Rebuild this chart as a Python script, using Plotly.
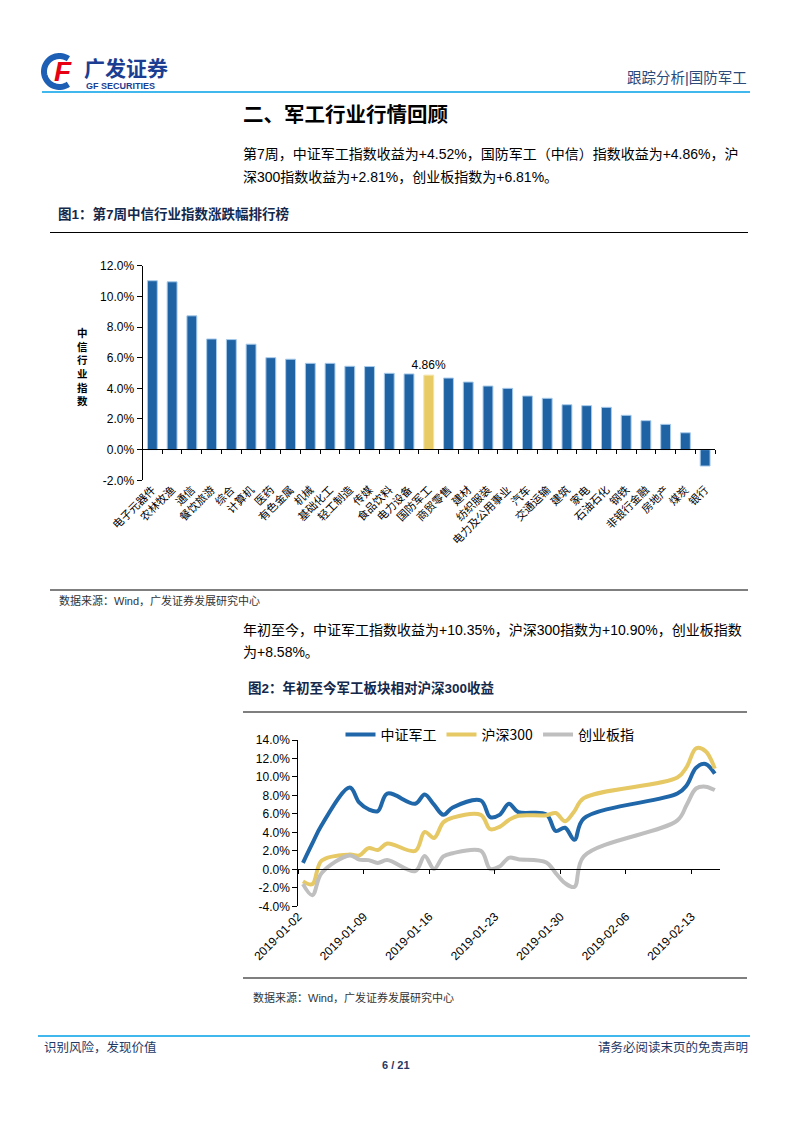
import math
import plotly.graph_objects as go

W, H = 793, 1122
OFF = 8  # the page's default body margin shifts the figure by 8px


def X(px):
    return (px - OFF) / W


def Y(py):
    return 1 - (py - OFF) / H


FONT = "Liberation Sans, Noto Sans CJK SC, sans-serif"
CJK = "Noto Sans CJK SC, Liberation Sans, sans-serif"

# ---------------- Chart 1 data ----------------
industries = ["电子元器件", "农林牧渔", "通信", "餐饮旅游", "综合", "计算机", "医药", "有色金属",
              "机械", "基础化工", "轻工制造", "传媒", "食品饮料", "电力设备", "国防军工", "商贸零售",
              "建材", "纺织服装", "电力及公用事业", "汽车", "交通运输", "建筑", "家电", "石油石化",
              "钢铁", "非银行金融", "房地产", "煤炭", "银行"]
weekly_change = [11.02, 10.95, 8.73, 7.22, 7.18, 6.88, 6.00, 5.90, 5.63, 5.63, 5.44, 5.42,
                 4.98, 4.94, 4.86, 4.67, 4.41, 4.15, 4.00, 3.50, 3.35, 2.93, 2.87, 2.76,
                 2.24, 1.89, 1.65, 1.10, -1.07]
highlight = "国防军工"
y1_ticks = [-2, 0, 2, 4, 6, 8, 10, 12]

# ---------------- Chart 2 data ----------------
trade_dates = ["2019-01-02", "2019-01-03", "2019-01-04", "2019-01-07", "2019-01-08", "2019-01-09",
               "2019-01-10", "2019-01-11", "2019-01-14", "2019-01-15", "2019-01-16", "2019-01-17",
               "2019-01-18", "2019-01-21", "2019-01-22", "2019-01-23", "2019-01-24", "2019-01-25",
               "2019-01-28", "2019-01-29", "2019-01-30", "2019-01-31", "2019-02-01", "2019-02-11",
               "2019-02-12", "2019-02-13", "2019-02-14", "2019-02-15"]
zz_jungong = [0.7, 2.8, 4.8, 8.85, 7.25, 6.5, 6.3, 8.2, 7.1, 8.1, 7.0, 5.9, 6.7, 7.45, 5.65,
              5.9, 7.1, 6.2, 5.95, 4.15, 4.5, 3.2, 5.5, 8.2, 9.1, 11.0, 11.4, 10.35]
hs300 = [-1.3, -1.6, 0.95, 1.6, 1.5, 2.3, 2.1, 2.8, 2.0, 4.05, 3.4, 5.1, 5.6, 5.9, 4.35,
         4.6, 5.35, 5.8, 5.85, 6.1, 5.2, 6.3, 7.7, 9.95, 11.1, 13.1, 12.8, 10.9]
cyb = [-1.6, -2.8, -0.4, 1.5, 1.05, 1.0, 0.7, 1.0, -0.2, 1.45, 0.05, 1.4, 1.75, 2.0, 0.05,
       0.3, 1.25, 1.1, 0.75, -0.4, -1.5, -1.9, 1.4, 5.3, 7.0, 8.75, 8.95, 8.58]
series_names = ["中证军工", "沪深300", "创业板指"]
series_colors = ["#1F67A8", "#E6C964", "#BFBFBF"]
y2_ticks = [-4, -2, 0, 2, 4, 6, 8, 10, 12, 14]
x2_range = ["2019-01-02", "2019-02-16"]

fig = go.Figure()

# Bars
n = len(industries)
bar_colors = ["#E9CB66" if c == highlight else "#1F63A5" for c in industries]
bar_line = ["#F3E3A6" if c == highlight else "#A9CBEA" for c in industries]
bar_text = [f"{v:.2f}%" if c == highlight else "" for c, v in zip(industries, weekly_change)]
fig.add_trace(go.Bar(
    x=industries, y=weekly_change, xaxis="x", yaxis="y",
    marker=dict(color=bar_colors, line=dict(color=bar_line, width=1)),
    width=0.5, text=bar_text, textposition="outside", constraintext="none",
    textfont=dict(family=FONT, size=12, color="#000000"), cliponaxis=False,
    showlegend=False, hoverinfo="skip"))
# carrier for the zero-level category axis
fig.add_trace(go.Scatter(x=[-0.5, n - 0.5], y=[0, 0], xaxis="x2", yaxis="y", mode="lines",
                         line=dict(width=0), showlegend=False, hoverinfo="skip"))

# Lines
for name, vals, col in zip(series_names, [zz_jungong, hs300, cyb], series_colors):
    fig.add_trace(go.Scatter(
        x=trade_dates, y=vals, xaxis="x3", yaxis="y3", name=name, mode="lines",
        xperiod=86400000, xperiodalignment="middle",
        line=dict(color=col, width=4, shape="spline", smoothing=1), hoverinfo="skip"))
fig.add_trace(go.Scatter(x=x2_range, y=[0, 0], xaxis="x4", yaxis="y3", mode="lines",
                         line=dict(width=0), showlegend=False, hoverinfo="skip"))

# ---------------- Layout ----------------
ax_common = dict(showgrid=False, zeroline=False, linecolor="#000000", tickcolor="#000000",
                 automargin=False)
fig.update_layout(
    template="none",
    width=W, height=H, autosize=False, margin=dict(l=0, r=0, t=0, b=0, pad=0),
    paper_bgcolor="white", plot_bgcolor="rgba(0,0,0,0)",
    font=dict(family=FONT, color="#000000"),
    bargap=0.5,
    xaxis=dict(domain=[X(142.5), X(715)], anchor="y", type="category", range=[-0.5, n - 0.5],
               showline=False, ticks="", tickangle=-45,
               tickfont=dict(family=CJK, size=11, color="#000000"), **ax_common),
    xaxis2=dict(overlaying="x", anchor="free", position=Y(449.3), range=[-0.5, n - 0.5],
                showline=True, linewidth=1, ticks="outside", ticklen=4,
                tickvals=[i - 0.5 for i in range(n + 1)], showticklabels=False, **ax_common),
    yaxis=dict(domain=[Y(480.3), Y(265.7)], anchor="x", range=[-2, 12], showline=True,
               linewidth=1, ticks="outside", ticklen=5, tickvals=y1_ticks,
               ticktext=[f"{v:.1f}%" for v in y1_ticks],
               tickfont=dict(family=FONT, size=12, color="#000000"), **ax_common),
    xaxis3=dict(domain=[X(298.3), X(719.5)], anchor="y3", type="date", range=x2_range,
                showline=False, ticks="", tick0="2019-01-02", dtick=7 * 86400000,
                tickformat="%Y-%m-%d", tickangle=-45,
                tickfont=dict(family=FONT, size=12, color="#000000"), **ax_common),
    xaxis4=dict(overlaying="x3", anchor="free", position=Y(869.3), type="date", range=x2_range,
                showline=True, linewidth=1, ticks="outside", ticklen=4,
                tick0="2019-01-02", dtick=7 * 86400000, showticklabels=False, **ax_common),
    yaxis3=dict(domain=[Y(906.3), Y(740)], anchor="x3", range=[-4, 14], showline=True,
                linewidth=1, ticks="outside", ticklen=5, tickvals=y2_ticks,
                ticktext=[f"{v:.1f}%" for v in y2_ticks],
                tickfont=dict(family=FONT, size=12, color="#000000"), **ax_common),
    legend=dict(orientation="h", x=X(490), xanchor="center", y=Y(735), yanchor="middle",
                font=dict(family=CJK, size=14, color="#000000"), bgcolor="rgba(0,0,0,0)",
                itemwidth=30, tracegroupgap=0),
)

# ---------------- Page decorations ----------------
shapes = []


def hline(x0, x1, y, color, width):
    shapes.append(dict(type="line", xref="paper", yref="paper", x0=X(x0), x1=X(x1),
                       y0=Y(y), y1=Y(y), line=dict(color=color, width=width)))


hline(42, 750, 92, "#00A0E9", 1.6)
hline(50, 748, 232.5, "#000000", 1.2)
hline(50, 748, 590, "#000000", 1.2)
hline(243, 747, 712, "#000000", 1.2)
hline(243, 747, 978, "#000000", 1.2)
hline(38, 750, 1036, "#00A0E9", 1.6)

# logo icon: blue arc
cx, cy, r = 59.5, 71.5, 15.5
pts = []
for k in range(0, 41):
    a = math.radians(55 + k * (250 / 40))
    pts.append((cx + r * math.cos(a), cy - r * math.sin(a)))
path = "M " + " L ".join(f"{X(px):.5f},{Y(py):.5f}" for px, py in pts)
shapes.append(dict(type="path", xref="paper", yref="paper", path=path,
                   line=dict(color="#1C5FB5", width=6)))
fig.update_layout(shapes=shapes)

ann = []


def text(x, y, s, size, color="#000000", anchor="left", family=FONT, valign="middle"):
    ann.append(dict(x=X(x), y=Y(y), xref="paper", yref="paper", text=s, showarrow=False,
                    xanchor=anchor, yanchor=valign,
                    font=dict(family=family, size=size, color=color)))


text(63, 71, "<b><i>F</i></b>", 28, "#E60012", "center")
text(82, 67, "<b>广发证券</b>", 21, "#1B3E92", "left", CJK)
text(84, 86, "<b>GF SECURITIES</b>", 9, "#1B3E92", "left")
text(749, 78, "跟踪分析|国防军工", 14.5, "#2B4A7A", "right")
text(241, 113, "<b>二、军工行业行情回顾</b>", 20.5, "#000000", "left", CJK)
text(241, 154, "第7周，中证军工指数收益为+4.52%，国防军工（中信）指数收益为+4.86%，沪", 14)
text(241, 177, "深300指数收益为+2.81%，创业板指数为+6.81%。", 14)
text(56, 214, "<b>图1：第7周中信行业指数涨跌幅排行榜</b>", 13.5, "#14284B")
text(82, 366, "<b>中<br>信<br>行<br>业<br>指<br>数</b>", 10.5, "#000000", "center", CJK)
text(57, 600, "数据来源：Wind，广发证券发展研究中心", 11, "#333333")
text(241, 630, "年初至今，中证军工指数收益为+10.35%，沪深300指数为+10.90%，创业板指数", 14)
text(241, 652, "为+8.58%。", 14)
text(246, 688, "<b>图2：年初至今军工板块相对沪深300收益</b>", 13.5, "#14284B")
text(251, 997, "数据来源：Wind，广发证券发展研究中心", 11, "#333333")
text(42, 1047, "识别风险，发现价值", 12.5, "#1F3864")
text(750, 1047, "请务必阅读末页的免责声明", 12.5, "#1F3864", "right")
text(396, 1065, "<b>6 / 21</b>", 11, "#1F3864", "center")
fig.update_layout(annotations=ann)

fig.write_html("out.html")
